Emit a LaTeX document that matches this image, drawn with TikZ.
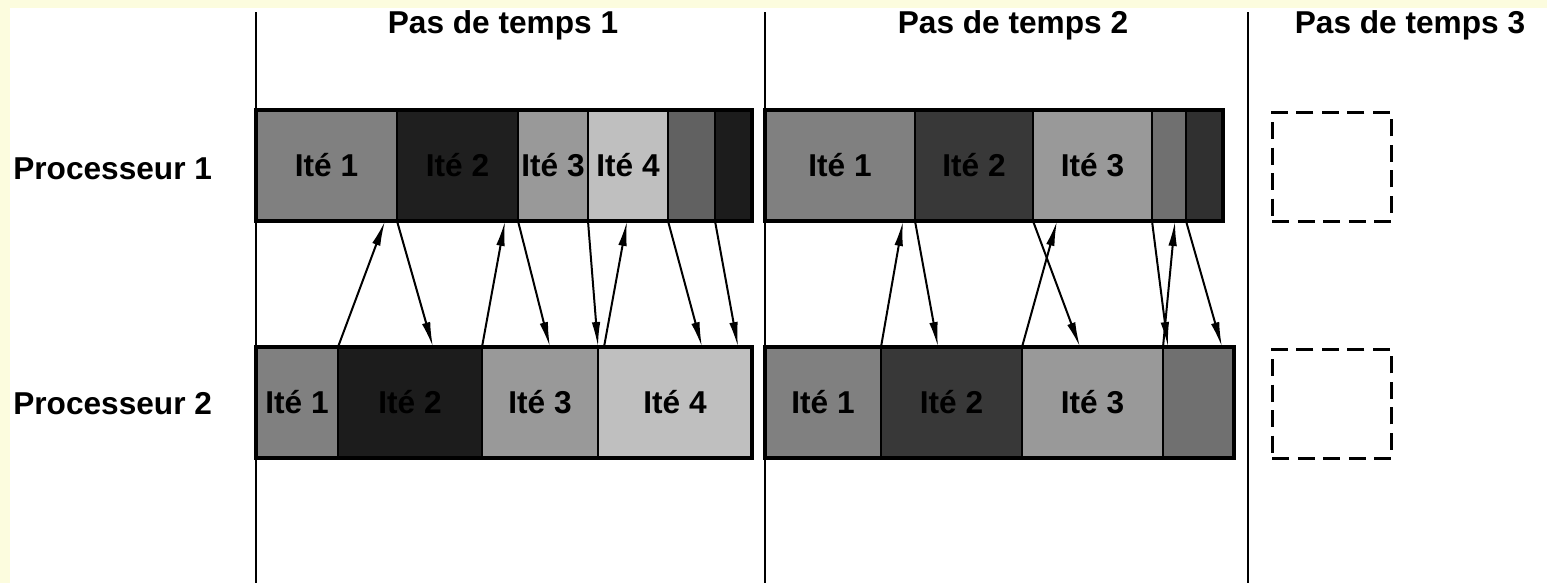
\documentclass[tikz,border=0pt]{standalone}
\usepackage{fontspec}
\setmainfont{Liberation Sans}
\usetikzlibrary{arrows.meta}
\definecolor{pagebg}{HTML}{FCFCDE}
\tikzset{
  itebox/.style={rectangle, draw, line width=0.045cm, inner sep=0pt,
                 outer sep=0pt, anchor=north west, minimum height=111*0.02cm,
                 font=\bfseries\fontsize{18}{20}\selectfont},
  barframe/.style={draw, line width=0.065cm},
  stepline/.style={draw, line width=0.05cm},
  msg/.style={-{Latex[length=0.5cm,width=0.17cm]}, line width=0.04cm},
  emptybox/.style={rectangle, draw, line width=0.05cm, inner sep=0pt,
                   anchor=north west, dash pattern=on 0.34cm off 0.17cm,
                   minimum width=119*0.02cm, minimum height=109*0.02cm},
  steplabel/.style={anchor=base, inner sep=0pt,
                    font=\bfseries\fontsize{18}{20}\selectfont},
  proclabel/.style={steplabel, anchor=base west}
}

\begin{document}
\begin{tikzpicture}[x=0.02cm, y=-0.02cm]
  \useasboundingbox (0,0) rectangle (1547,583);
  \fill[pagebg] (0,0) rectangle (1547,583);
  \fill[white] (10,8) rectangle (1547,583);
  \foreach \x in {256,765,1248} { \draw[stepline] (\x,12) -- (\x,583); }
  \node[steplabel] (pas1) at (503,33) {Pas de temps 1};
  \node[steplabel] (pas2) at (1013,33) {Pas de temps 2};
  \node[steplabel] (pas3) at (1410,33) {Pas de temps 3};
  \node[proclabel] (proc1) at (13,179) {Processeur 1};
  \node[proclabel] (proc2) at (13,414) {Processeur 2};
  \foreach \n/\x/\w/\c/\t in {a1/256/141/50/Ité 1, a2/397/121/88/Ité 2,
      a3/518/70/40/Ité 3, a4/588/80/25/Ité 4, a5/668/47/62/{}, a6/715/37/89/{},
      c1/765/150/50/Ité 1, c2/915/118/78/Ité 2, c3/1033/119/40/Ité 3,
      c4/1152/34/56/{}, c5/1186/37/81/{}} {
    \node[itebox, fill=black!\c, minimum width=\w*0.02cm] (\n) at (\x,110) {\t};
  }
  \foreach \n/\x/\w/\c/\t in {b1/256/82/50/Ité 1, b2/338/144/89/Ité 2,
      b3/482/116/40/Ité 3, b4/598/154/25/Ité 4,
      d1/765/116/50/Ité 1, d2/881/141/78/Ité 2, d3/1022/141/40/Ité 3,
      d4/1163/71/56/{}} {
    \node[itebox, fill=black!\c, minimum width=\w*0.02cm] (\n) at (\x,347) {\t};
  }
  \draw[barframe] (a1.north west) rectangle (a6.south east);
  \draw[barframe] (b1.north west) rectangle (b4.south east);
  \draw[barframe] (c1.north west) rectangle (c5.south east);
  \draw[barframe] (d1.north west) rectangle (d4.south east);
  \node[emptybox] (e1) at (1271,111) {};
  \node[emptybox] (e2) at (1271,348) {};
  \foreach \n/\x/\y in {t1/385/221, t2/433/347, t3/505/221, t4/550/347,
      s6/604/347, t6/627/221, t7/702/347, t8/738/347,
      u1/903/221, u2/938/347, u3/1057/221, u4/1080/347, u5/1168/347,
      u6/1175/221, u7/1222/347} {
    \coordinate (\n) at (\x,\y);
  }
  \foreach \s/\t in {b2.north west/t1, a1.south east/t2, b3.north west/t3,
      a3.south west/t4, a4.south west/b4.north west, s6/t6,
      a5.south west/t7, a6.south west/t8,
      d2.north west/u1, c1.south east/u2, d3.north west/u3, c3.south west/u4,
      c4.south west/u5, d4.north west/u6, c5.south west/u7} {
    \draw[msg] (\s) -- (\t);
  }
\end{tikzpicture}
\end{document}
